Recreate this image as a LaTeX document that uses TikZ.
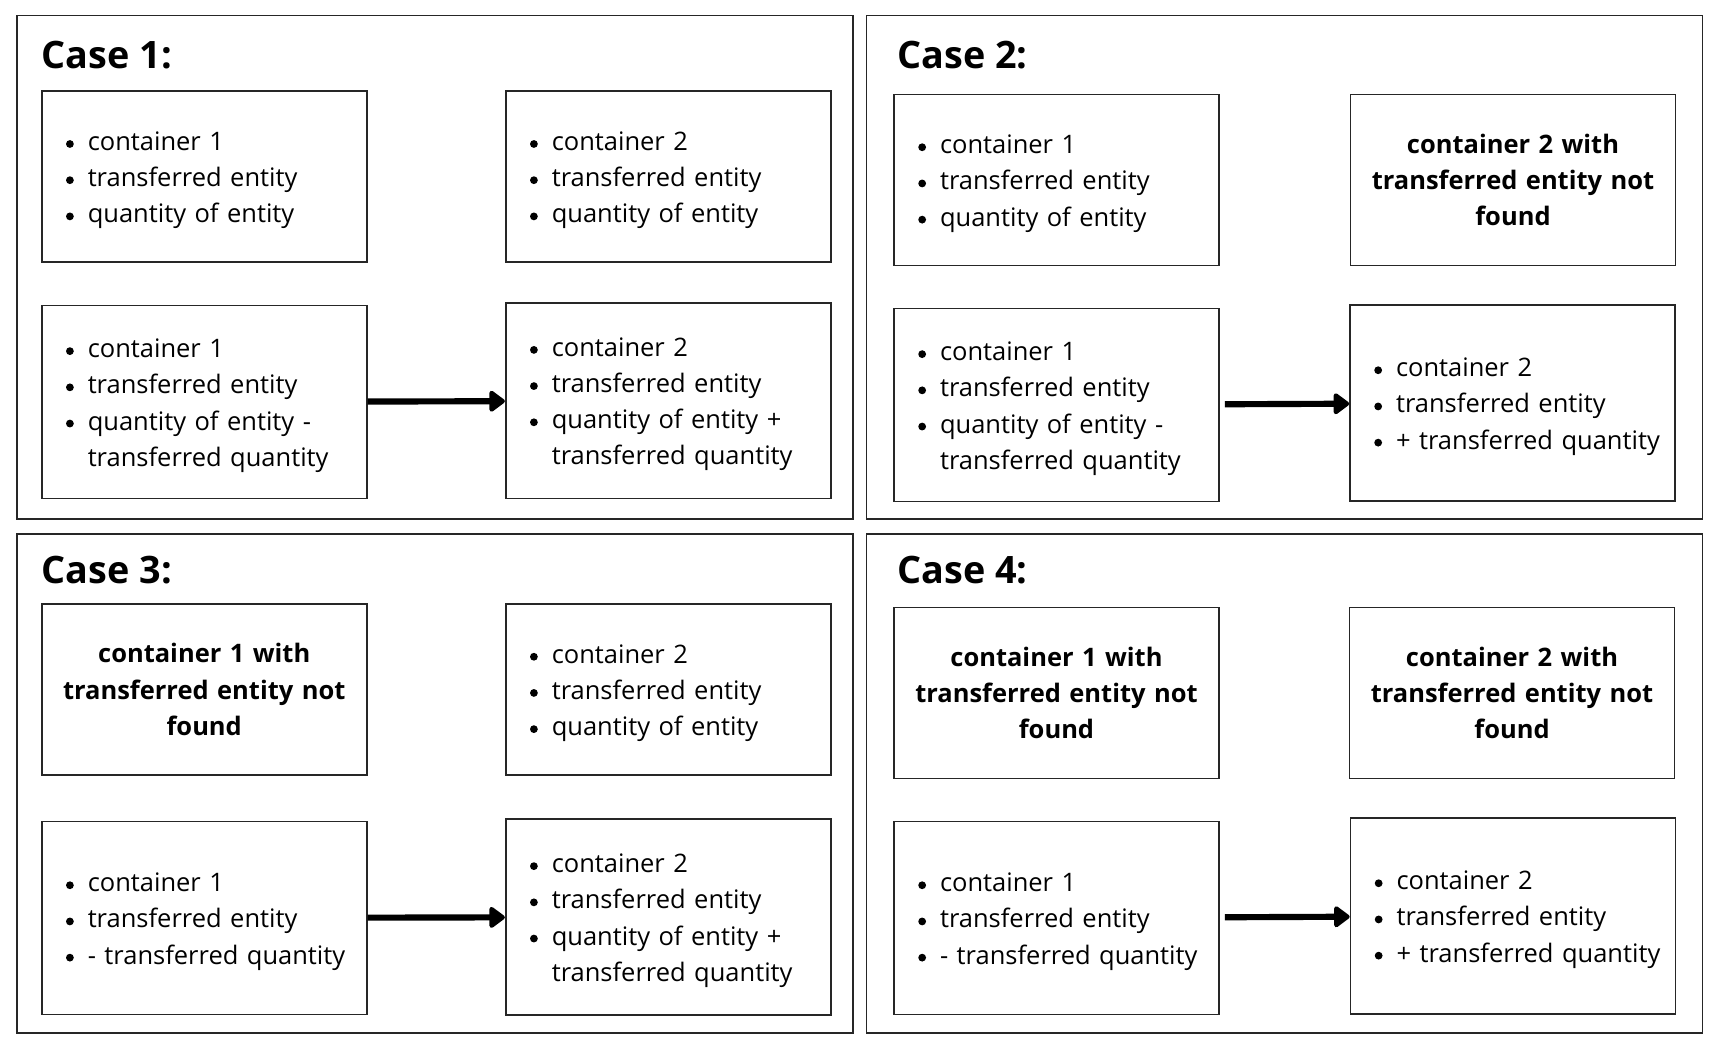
\documentclass[tikz,border=0pt]{standalone}
\usepackage{fontspec}
\setmainfont{Open Sans}
\usepackage{tikz}
\usetikzlibrary{arrows.meta, positioning}

\newcommand{\itm}{\makebox[0.62cm][l]{\hspace{0.185cm}\tikz[baseline=-0.13cm]\fill (0,0) circle (0.078cm);}}
\newcommand{\cont}{\hspace*{0.62cm}}

\begin{document}
\begin{tikzpicture}[
        font=\fontsize{14.5}{20.6}\selectfont,
        panel/.style={draw=black!85, line width=1pt, minimum width=16.72cm},
        title/.style={font=\fontsize{21.5}{26}\selectfont\bfseries, anchor=base west, inner sep=0pt},
        box/.style={draw=black!85, line width=1pt, inner xsep=0.3cm, inner ysep=0pt, text width=5.9cm},
        listbox/.style={box, align=left, execute at begin node={\rule{0pt}{14.8pt}}},
        foundbox/.style={box, align=center, font=\fontsize{14.5}{20.6}\selectfont\bfseries},
        upper/.style={minimum height=3.42cm},
        lower/.style={minimum height=3.86cm},
        arr/.style={-{Triangle[length=0.34cm, width=0.48cm, round]}, line width=3.5pt, black}
    ]
    \useasboundingbox (0,0) rectangle (34.44,-21.08);

    % frames
    \node[panel, minimum height=10.07cm] (case1) at (8.705,-5.345) {};
    \node[panel, minimum height=10.07cm] (case2) at (25.69,-5.345) {};
    \node[panel, minimum height=9.99cm] (case3) at (8.705,-15.67) {};
    \node[panel, minimum height=9.99cm] (case4) at (25.69,-15.67) {};

    \node[title] (t1) at (0.83,-1.38) {Case 1:};
    \node[title] (t2) at (17.94,-1.38) {Case 2:};
    \node[title] (t3) at (0.83,-11.67) {Case 3:};
    \node[title] (t4) at (17.94,-11.67) {Case 4:};

    % case 1
    \node[listbox, upper] (c1con1) at (4.085,-3.535)
        {\itm container 1\\ \itm transferred entity\\ \itm quantity of entity};
    \node[listbox, upper] (c1con2) at (13.365,-3.535)
        {\itm container 2\\ \itm transferred entity\\ \itm quantity of entity};
    \node[listbox, lower] (c1res1) at (4.085,-8.04)
        {\itm container 1\\ \itm transferred entity\\ \itm quantity of entity -\\ \cont transferred quantity};
    \node[listbox, lower, minimum height=3.91cm] (c1res2) at (13.365,-8.015)
        {\itm container 2\\ \itm transferred entity\\ \itm quantity of entity +\\ \cont transferred quantity};
    \draw[arr] (c1res1) -- (c1res2);

    % case 2
    \node[listbox, upper] (c2con1) at (21.13,-3.6)
        {\itm container 1\\ \itm transferred entity\\ \itm quantity of entity};
    \node[foundbox, upper] (c2con2) at (30.26,-3.6)
        {container 2 with\\ transferred entity not\\ found};
    \node[listbox, lower] (c2res1) at (21.13,-8.1)
        {\itm container 1\\ \itm transferred entity\\ \itm quantity of entity -\\ \cont transferred quantity};
    \node[listbox, lower, minimum height=3.91cm] (c2res2) at (30.25,-8.06)
        {\itm container 2\\ \itm transferred entity\\ \itm + transferred quantity};
    \draw[arr, shorten <=0.1cm] (c2res1) -- (c2res2);

    % case 3
    \node[foundbox, upper] (c3con1) at (4.085,-13.79)
        {container 1 with\\ transferred entity not\\ found};
    \node[listbox, upper] (c3con2) at (13.365,-13.79)
        {\itm container 2\\ \itm transferred entity\\ \itm quantity of entity};
    \node[listbox, lower] (c3res1) at (4.085,-18.36)
        {\itm container 1\\ \itm transferred entity\\ \itm - transferred quantity};
    \node[listbox, lower, minimum height=3.91cm] (c3res2) at (13.365,-18.34)
        {\itm container 2\\ \itm transferred entity\\ \itm quantity of entity +\\ \cont transferred quantity};
    \draw[arr] (c3res1) -- (c3res2);

    % case 4
    \node[foundbox, upper] (c4con1) at (21.13,-13.86)
        {container 1 with\\ transferred entity not\\ found};
    \node[foundbox, upper] (c4con2) at (30.24,-13.86)
        {container 2 with\\ transferred entity not\\ found};
    \node[listbox, lower] (c4res1) at (21.13,-18.36)
        {\itm container 1\\ \itm transferred entity\\ \itm - transferred quantity};
    \node[listbox, lower, minimum height=3.91cm] (c4res2) at (30.26,-18.32)
        {\itm container 2\\ \itm transferred entity\\ \itm + transferred quantity};
    \draw[arr, shorten <=0.1cm] (c4res1) -- (c4res2);
\end{tikzpicture}
\end{document}
